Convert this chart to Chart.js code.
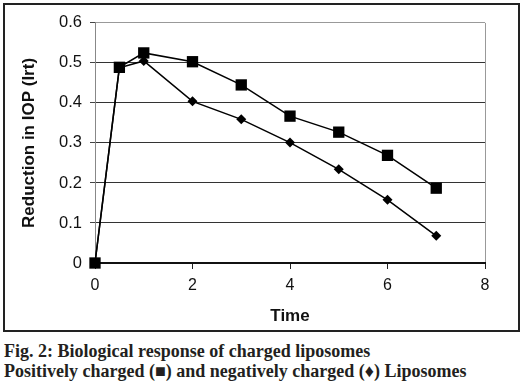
<!DOCTYPE html>
<html>
<head>
<meta charset="utf-8">
<script src="https://cdn.jsdelivr.net/npm/chart.js@4"></script>
<style>
  body { margin: 0; background: #fff; width: 523px; height: 386px; position: relative; overflow: hidden; }
  #box { position: absolute; left: 3px; top: 3px; width: 513px; height: 325px; border: 2px solid #222; }
  #chart { display: block; }
  #caption { position: absolute; left: 4px; top: 341px; font-family: "Liberation Serif", serif; font-weight: bold;
             font-size: 18px; line-height: 20px; color: #231f20; white-space: nowrap; }
</style>
</head>
<body>
<div id="box"><canvas id="chart" width="513" height="325"></canvas></div>
<div id="caption">Fig. 2: Biological response of charged liposomes<br>Positively charged (&#9632;) and negatively charged (&#9830;) Liposomes</div>
<script>
const times = [0, 0.5, 1, 2, 3, 4, 5, 6, 7];
const positive = [0, 0.489, 0.525, 0.503, 0.445, 0.367, 0.327, 0.269, 0.187];
const negative = [0, 0.488, 0.505, 0.404, 0.359, 0.301, 0.234, 0.158, 0.068];
const xTicks = [0, 2, 4, 6, 8];
const yTicks = [0, 0.1, 0.2, 0.3, 0.4, 0.5, 0.6];

const toPoints = vals => vals.map((v, i) => ({ x: times[i], y: v }));

new Chart(document.getElementById("chart"), {
  type: "line",
  data: {
    datasets: [
      {
        label: "Positively charged",
        data: toPoints(positive),
        borderColor: "#000",
        backgroundColor: "#000",
        borderWidth: 1.5,
        pointStyle: "rect",
        pointRadius: 8,
        pointBorderWidth: 0,
        clip: false
      },
      {
        label: "Negatively charged",
        data: toPoints(negative),
        borderColor: "#000",
        backgroundColor: "#000",
        borderWidth: 1.5,
        pointStyle: "rectRot",
        pointRadius: 5,
        pointBorderWidth: 0,
        clip: false
      }
    ]
  },
  options: {
    responsive: false,
    animation: false,
    layout: { padding: { left: 0, top: 12, right: 33, bottom: 0 } },
    plugins: { legend: { display: false }, tooltip: { enabled: false } },
    scales: {
      x: {
        type: "linear",
        min: 0,
        max: 8,
        afterBuildTicks: s => { s.ticks = xTicks.map(v => ({ value: v })); },
        afterFit: s => { s.height = 67; },
        ticks: { color: "#111", font: { family: "Liberation Sans", size: 16 }, padding: 7 },
        grid: {
          color: c => c.tick && c.tick.value === 8 ? "#999" : "rgba(0,0,0,0)",
          tickColor: "#222",
          tickLength: 6,
          lineWidth: 1
        },
        border: { color: "#111", width: 2 },
        title: { display: true, text: "Time", color: "#111",
                 font: { family: "Liberation Sans", size: 17, weight: "bold" }, padding: { top: 0, bottom: 3 } }
      },
      y: {
        min: 0,
        max: 0.6,
        afterBuildTicks: s => { s.ticks = yTicks.map(v => ({ value: v })); },
        afterFit: s => { s.width = 90; },
        ticks: { color: "#111", font: { family: "Liberation Sans", size: 16.5 }, padding: 8,
                 callback: v => v === 0 ? "0" : v.toFixed(1) },
        grid: {
          color: c => {
            if (!c.tick) return "#333";
            if (c.tick.value === 0) return "rgba(0,0,0,0)";
            if (c.tick.value === 0.6) return "#999";
            return "#333";
          },
          tickColor: "#444",
          tickLength: 5,
          lineWidth: 1
        },
        border: { color: "#888", width: 1 },
        title: { display: true, text: "Reduction in IOP (Irt)", color: "#111",
                 font: { family: "Liberation Sans", size: 17, weight: "bold" }, padding: { top: 14, bottom: 0 } }
      }
    }
  }
});
</script>
</body>
</html>
